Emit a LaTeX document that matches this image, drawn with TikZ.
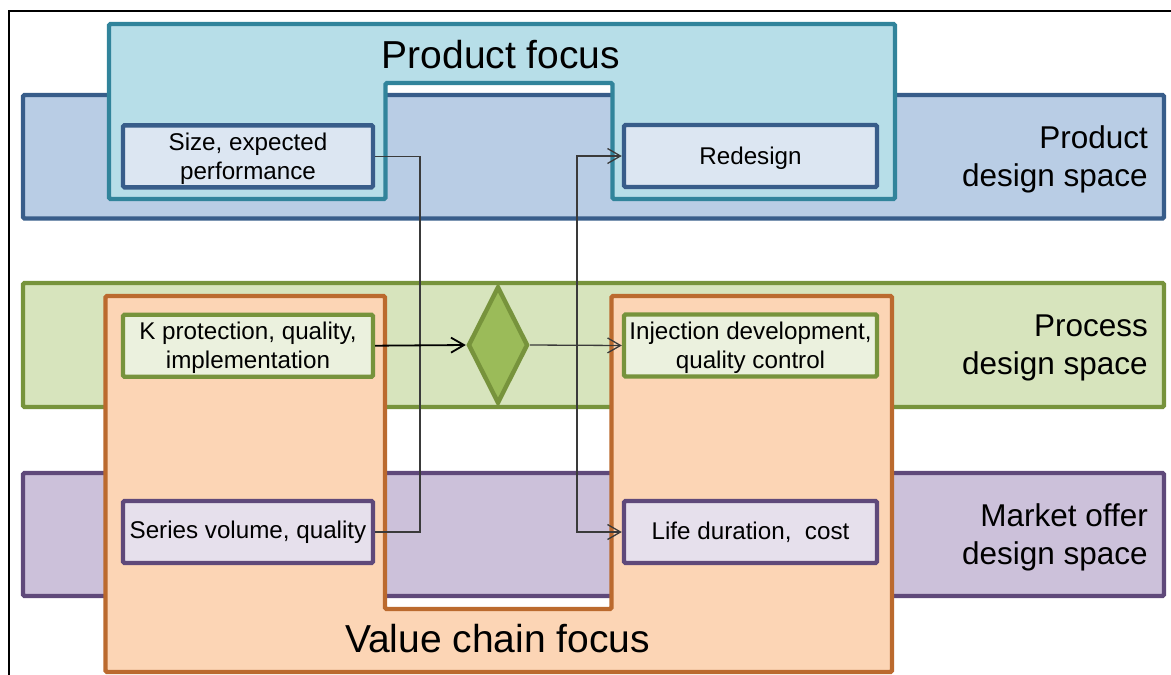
\documentclass[tikz,border=0pt]{standalone}
\usepackage{fontspec}
\setmainfont{Liberation Sans}
\usetikzlibrary{shapes.geometric,arrows.meta}
\definecolor{pbandF}{HTML}{B9CDE5}
\definecolor{pbandD}{HTML}{385D8A}
\definecolor{pfocF}{HTML}{B7DEE8}
\definecolor{pfocD}{HTML}{31849B}
\definecolor{pboxF}{HTML}{DCE6F2}
\definecolor{gbandF}{HTML}{D7E4BD}
\definecolor{gD}{HTML}{77933C}
\definecolor{gboxF}{HTML}{EBF1DE}
\definecolor{diaF}{HTML}{9BBB59}
\definecolor{mbandF}{HTML}{CCC1DA}
\definecolor{mD}{HTML}{5F497A}
\definecolor{mboxF}{HTML}{E6E0EC}
\definecolor{vcF}{HTML}{FCD5B5}
\definecolor{vcD}{HTML}{BB6A2E}
\definecolor{connC}{HTML}{3A3A3A}
\newcommand{\uplift}{\rule{0pt}{22.5pt}}
\begin{document}
\begin{tikzpicture}[x=1pt,y=-1pt,
 band/.style={draw, line width=4.4pt, rounded corners=1.5pt, minimum width=1141pt, minimum height=123.5pt, inner sep=0pt},
 focus/.style={line width=4.4pt, rounded corners=1.5pt},
 ibox/.style={draw, line width=4.4pt, rounded corners=1.5pt, minimum width=250pt, minimum height=62pt, inner sep=0pt, align=center, font=\fontsize{24.2}{29}\selectfont},
 bandlabel/.style={anchor=east, align=right, inner sep=0pt, font=\fontsize{31.5}{38}\selectfont},
 focuslabel/.style={anchor=base, inner sep=0pt, font=\fontsize{39}{47}\selectfont},
 conn/.style={draw=connC, line width=1.3pt},
 arr/.style={conn, -{Straight Barb[length=13pt,width=15pt]}},
]
\useasboundingbox (0,0) rectangle (1171,675);
% bands
\node[band, fill=pbandF, draw=pbandD] (pband) at (593.5,156.75) {};
\node[band, fill=gbandF, draw=gD, minimum height=124pt] (gband) at (593.5,345) {};
\node[band, fill=mbandF, draw=mD, minimum height=123pt] (mband) at (593.5,534.5) {};
% band labels
\node[bandlabel] (plab) at (1148,159.5) {Product\\design space};
\node[bandlabel] (glab) at (1148,348) {Process\\design space};
\node[bandlabel] (mlab) at (1148,537.5) {Market offer\\design space};
% focus shapes
\path[focus, fill=pfocF, draw=pfocD] (109,24) -- (895,24) -- (895,199) -- (612.5,199) -- (612.5,83) -- (385.5,83) -- (385.5,199) -- (109,199) -- cycle;
\path[focus, fill=vcF, draw=vcD] (105.5,296) -- (385,296) -- (385,609) -- (611.5,609) -- (611.5,296) -- (892,296) -- (892,672) -- (105.5,672) -- cycle;
\node[focuslabel] (pflab) at (501,68) {Product focus};
\node[focuslabel] (vclab) at (497.5,652) {Value chain focus};
% inner boxes
\node[ibox, fill=pboxF, draw=pbandD] (size) at (248,156.3) {\uplift Size, expected\\performance};
\node[ibox, fill=pboxF, draw=pbandD, minimum width=253pt, text depth=0pt] (redesign) at (750.5,156) {Redesign};
\node[ibox, fill=gboxF, draw=gD] (kprot) at (248,345.7) {\uplift K protection, quality,\\implementation};
\node[ibox, fill=gboxF, draw=gD, minimum width=253pt] (inj) at (750.5,345.5) {\uplift Injection development,\\quality control};
\node[ibox, fill=mboxF, draw=mD] (series) at (248,532) {Series volume, quality};
\node[ibox, fill=mboxF, draw=mD, minimum width=253pt] (life) at (750.5,532) {Life duration,\ \ cost};
% diamond
\node[diamond, draw=gD, fill=diaF, line width=4.4pt, minimum width=60pt, minimum height=117pt, inner sep=0pt] (dia) at (498,345) {};
% connectors
\coordinate (jl) at (420,345);
\coordinate (jr) at (577,345);
\draw[conn] (size.east) -| (jl) |- (series.east);
\draw[arr] (jr) |- (redesign.west);
\draw[arr] (jr) |- (life.west);
\draw[arr, draw=black, line width=1.8pt] (kprot.east) -- (dia.west);
\draw[arr] (dia.east) -- (inj.west);
% frame
\coordinate (f1) at (9.3,675);
\coordinate (f2) at (9.3,11.3);
\coordinate (f3) at (1171,11.3);
\draw[line width=1.8pt] (f1) -- (f2) -- (f3);
\end{tikzpicture}
\end{document}
